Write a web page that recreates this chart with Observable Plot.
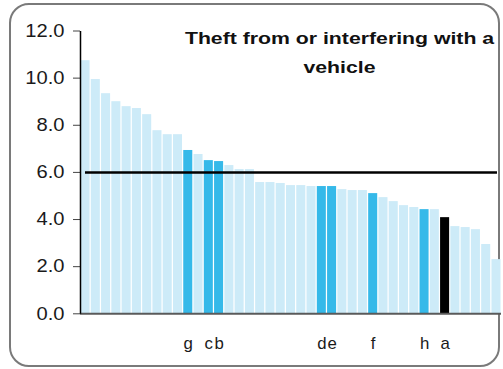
<!DOCTYPE html>
<html><head><meta charset="utf-8">
<script src="https://cdn.jsdelivr.net/npm/d3@7"></script>
<script src="https://cdn.jsdelivr.net/npm/@observablehq/plot@0.6"></script>
<style>
body{margin:0;background:#fff;}
#wrap{position:relative;width:503px;height:369px;overflow:hidden;}
#frame{position:absolute;left:9px;top:3px;width:487px;height:360px;border:2px solid #7a7a7a;border-radius:20px;}
#chart{position:absolute;left:0;top:0;}
</style></head><body>
<div id="wrap"><div id="frame"></div><div id="chart"></div></div>
<script>
const values = [10.74, 9.94, 9.34, 9.0, 8.79, 8.71, 8.45, 7.77, 7.6, 7.6,
  6.93, 6.76, 6.5, 6.46, 6.29, 6.12, 6.12, 5.57, 5.57, 5.53,
  5.44, 5.44, 5.40, 5.40, 5.40, 5.27, 5.23, 5.23, 5.10, 4.93,
  4.76, 4.59, 4.51, 4.42, 4.42, 4.08, 3.70, 3.66, 3.57, 2.94, 2.30];
const labels = ["","","","","","","","","","",
  "g","","c","b","","","","","","",
  "","","","d","e","","","","f","",
  "","","","h","","a","","","","",""];
const selfLabel = "a";
const average = 6.0;
const yTicks = [0, 2, 4, 6, 8, 10, 12];
const title = "Theft from or interfering with a\nvehicle";

const bars = values.map((v, i) => ({
  i, v, code: labels[i],
  kind: labels[i] === selfLabel ? "self" : (labels[i] ? "comp" : "base")
}));

const W = 503, H = 369, mL = 80, mR = 2, mT = 30.5, mB = 55.7;
const fw = W - mL - mR, fh = H - mT - mB;

const chart = Plot.plot({
  width: W, height: H,
  marginLeft: mL, marginRight: mR, marginTop: mT, marginBottom: mB,
  style: {fontFamily: "'Liberation Sans', Arial, sans-serif", background: "transparent", color: "#1a1a1a", overflow: "visible"},
  x: {type: "band", domain: d3.range(values.length), paddingInner: 0.12, paddingOuter: 0.05, round: false},
  y: {domain: [0, 12]},
  color: {type: "ordinal", domain: ["base", "comp", "self"], range: ["#cdebf8", "#35b9e9", "#000000"]},
  marks: [
    Plot.barY(bars, {x: "i", y: "v", fill: "kind"}),
    Plot.ruleY([0], {stroke: "#5a5a5a", strokeWidth: 2}),
    Plot.ruleY([average], {stroke: "#000", strokeWidth: 2.5, insetLeft: 5, insetRight: 4}),
    Plot.axisY({ticks: yTicks, tickFormat: d => d.toFixed(1), tickSize: 7, tickPadding: 9, fontSize: 18, stroke: "#444", label: null}),
    Plot.axisX({tickSize: 0, tickPadding: 24, fontSize: 16, tickFormat: i => labels[i], label: null}),
    // left axis line only (frame stroke dashed so only its left side shows)
    Plot.frame({stroke: "#000", strokeWidth: 1.5, strokeDasharray: `0 ${2 * fw + fh} ${fh + 2}`}),
    Plot.text([title], {frameAnchor: "top-right", lineAnchor: "top", dx: -162, dy: -8, textAnchor: "middle", fontSize: 17, fontWeight: "bold", lineHeight: 1.73, fill: "#111"})
  ]
});
document.getElementById("chart").appendChild(chart);

function stretchText(t, s) {
  const tr = t.getAttribute("transform");
  if (tr && tr.includes("translate")) {
    t.setAttribute("transform", tr + ` scale(${s},1)`);
  } else {
    const x = +(t.getAttribute("x") || 0), y = +(t.getAttribute("y") || 0);
    t.setAttribute("transform", `translate(${x},${y}) scale(${s},1) translate(${-x},${-y})`);
  }
}
chart.querySelectorAll("text").forEach(t => {
  const s = t.textContent;
  if (s.includes("Theft")) stretchText(t, 1.25);
  else if (/^\d+\.\d$/.test(s)) stretchText(t, 1.12);
  else if (/^[a-h]$/.test(s)) stretchText(t, 1.05);
});
</script>
</body></html>
